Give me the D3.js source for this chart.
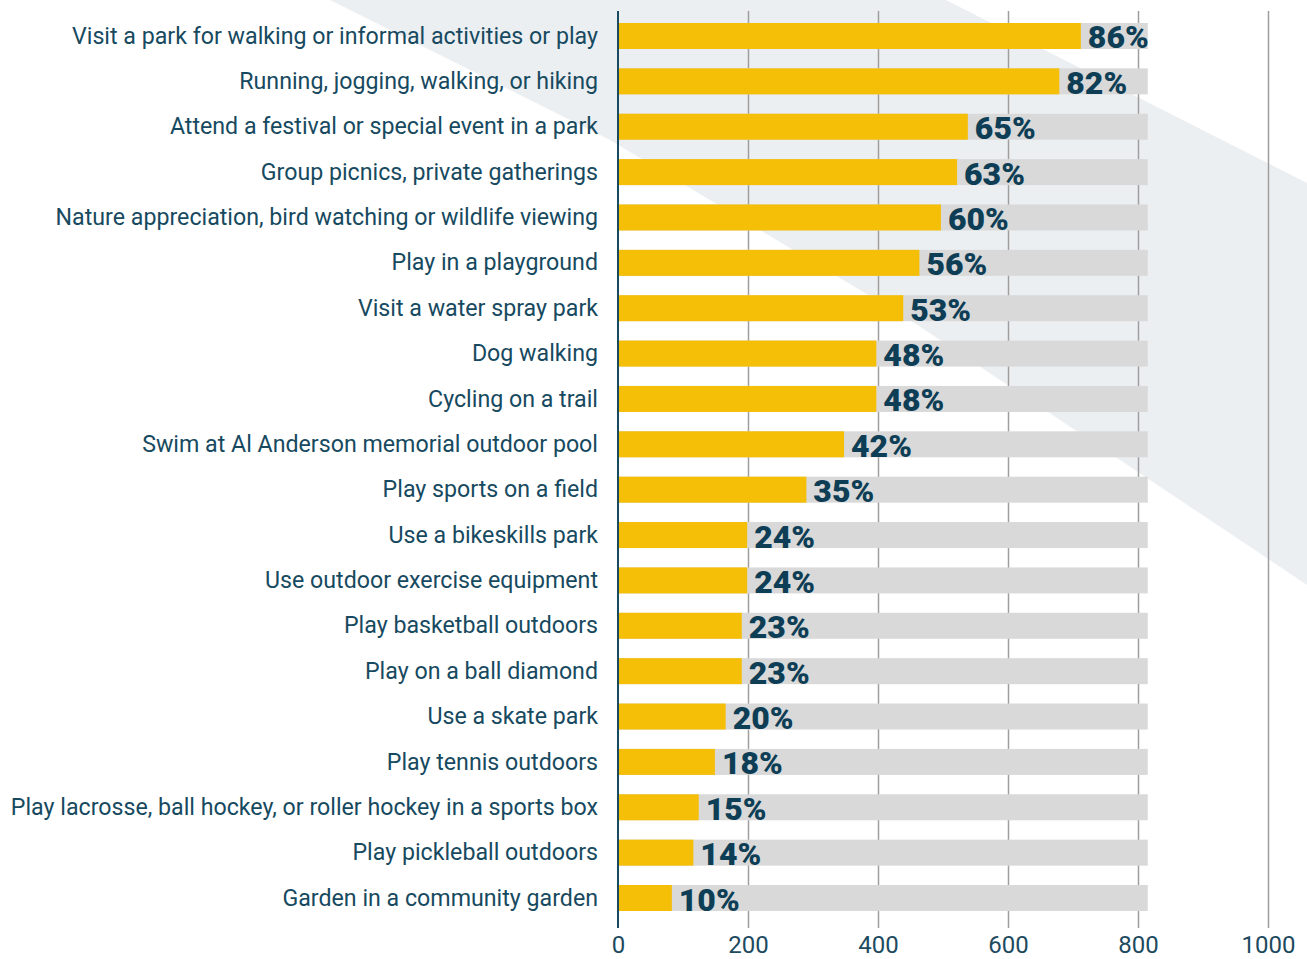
<!DOCTYPE html>
<html>
<head>
<meta charset="utf-8">
<script src="https://cdn.jsdelivr.net/npm/d3@7/dist/d3.min.js"></script>
<style>
  html, body { margin: 0; padding: 0; background: #ffffff; }
  svg { display: block; }
</style>
</head>
<body>
<svg id="chart" width="1307" height="959"></svg>
<script>
// Outdoor park activities: share of respondents who take part
const activities = [
  "Visit a park for walking or informal activities or play",
  "Running, jogging, walking, or hiking",
  "Attend a festival or special event in a park",
  "Group picnics, private gatherings",
  "Nature appreciation, bird watching or wildlife viewing",
  "Play in a playground",
  "Visit a water spray park",
  "Dog walking",
  "Cycling on a trail",
  "Swim at Al Anderson memorial outdoor pool",
  "Play sports on a field",
  "Use a bikeskills park",
  "Use outdoor exercise equipment",
  "Play basketball outdoors",
  "Play on a ball diamond",
  "Use a skate park",
  "Play tennis outdoors",
  "Play lacrosse, ball hockey, or roller hockey in a sports box",
  "Play pickleball outdoors",
  "Garden in a community garden"
];
const percents = [86, 82, 65, 63, 60, 56, 53, 48, 48, 42, 35, 24, 24, 23, 23, 20, 18, 15, 14, 10];
const respondents = 828;      // survey responses; bars show counts
const trackValue = 815;       // length of the grey background track
const xTicks = [0, 200, 400, 600, 800, 1000];

const rows = activities.map((name, i) => ({
  name,
  pct: percents[i],
  count: percents[i] / 100 * respondents
}));

const svg = d3.select("#chart");

const x = d3.scaleLinear().domain([0, 1000]).range([618, 1268]);
const y = d3.scaleBand()
  .domain(activities)
  .range([13.3, 920.7])
  .paddingInner(0.427)
  .paddingOuter(0.2135);

const plotTop = 11, plotBottom = 928;
const font = "Roboto, 'Liberation Sans', sans-serif";

// soft diagonal band in the background
svg.append("path")
  .attr("d", "M330,0 L946,0 L1307,183 L1307,585 L1117,458 L910,320 L610,140 Z")
  .attr("fill", "#eceff2");

// gridlines and tick labels
const axis = d3.axisBottom(x)
  .tickValues(xTicks)
  .tickSize(-(plotBottom - plotTop))
  .tickPadding(0)
  .tickFormat(d3.format("d"));

const gAxis = svg.append("g")
  .attr("transform", `translate(0,${plotBottom})`)
  .call(axis);
gAxis.select(".domain").remove();
gAxis.selectAll(".tick line")
  .attr("stroke", "#9e9e9e")
  .attr("stroke-width", 1.5)
  .attr("opacity", d => d === 0 ? 0 : 1);
gAxis.selectAll(".tick text")
  .attr("y", 25)
  .attr("dy", null)
  .attr("fill", "#1d4a5f")
  .style("font-family", font)
  .style("font-size", "24px");

// grey tracks
svg.append("g").selectAll("rect")
  .data(rows)
  .join("rect")
  .attr("x", x(0))
  .attr("y", d => y(d.name))
  .attr("width", x(trackValue) - x(0))
  .attr("height", y.bandwidth())
  .attr("fill", "#d9d9d9");

// value bars
svg.append("g").selectAll("rect")
  .data(rows)
  .join("rect")
  .attr("x", x(0))
  .attr("y", d => y(d.name))
  .attr("width", d => x(d.count) - x(0))
  .attr("height", y.bandwidth())
  .attr("fill", "#f5be07");

// percentage labels
svg.append("g").selectAll("text")
  .data(rows)
  .join("text")
  .attr("x", d => x(d.count) + 7)
  .attr("y", d => y(d.name) + y.bandwidth() - 0.5)
  .attr("fill", "#0e3e55")
  .style("font-family", font)
  .style("font-weight", 900)
  .style("font-size", "32px")
  .text(d => d.pct + "%");

// category labels
svg.append("g").selectAll("text")
  .data(rows)
  .join("text")
  .attr("x", 598)
  .attr("y", d => y(d.name) + y.bandwidth() / 2)
  .attr("dy", "0.33em")
  .attr("text-anchor", "end")
  .attr("fill", "#174a60")
  .style("font-family", font)
  .style("font-size", "23.2px")
  .text(d => d.name);

// zero axis line
svg.append("line")
  .attr("x1", x(0)).attr("x2", x(0))
  .attr("y1", plotTop).attr("y2", plotBottom)
  .attr("stroke", "#1a4a60")
  .attr("stroke-width", 2);
</script>
</body>
</html>
